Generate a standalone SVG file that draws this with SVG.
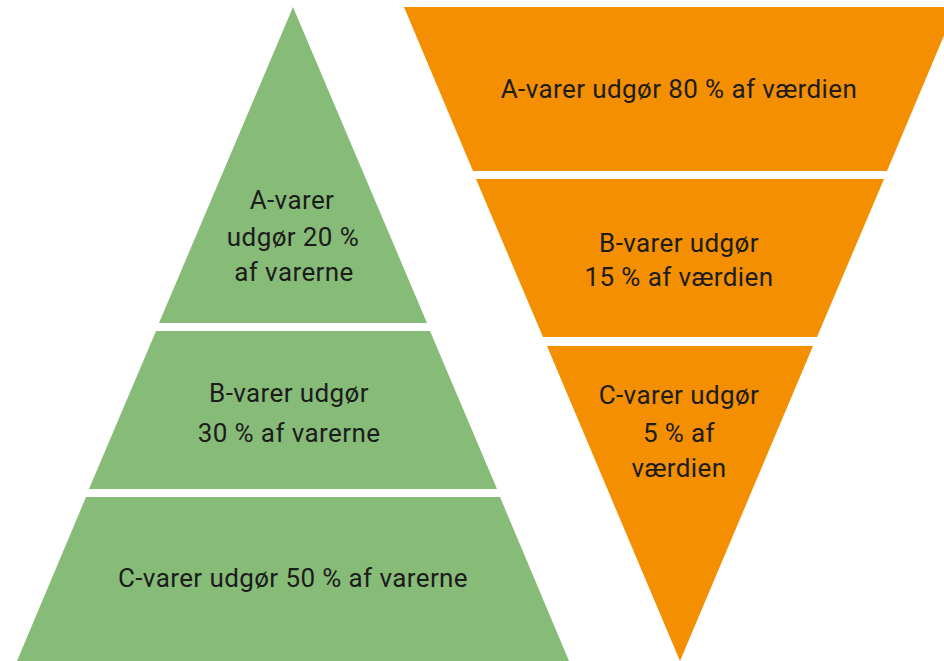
<svg xmlns="http://www.w3.org/2000/svg" width="944" height="661" viewBox="0 0 944 661">
  <style>
    .green { fill: #87BB78; }
    .orange { fill: #F38F00; }
    .lbl { font-family: Roboto, "Liberation Sans", sans-serif; font-size: 26px; letter-spacing: 0.4px; fill: #1c1c1c; text-anchor: middle; }
  </style>
  <rect width="944" height="661" fill="#ffffff"/>

  <!-- Left pyramid: share of items -->
  <g id="green-a">
    <polygon class="green" points="293,7 427,323 159,323"/>
    <text class="lbl" x="292" y="209">A-varer</text>
    <text class="lbl" x="293" y="246">udgør 20 %</text>
    <text class="lbl" x="294" y="281">af varerne</text>
  </g>
  <g id="green-b">
    <polygon class="green" points="156,331 430,331 497,489 89,489"/>
    <text class="lbl" x="289" y="402">B-varer udgør</text>
    <text class="lbl" x="289" y="442">30 % af varerne</text>
  </g>
  <g id="green-c">
    <polygon class="green" points="86,497 500,497 569,661 17,661"/>
    <text class="lbl" x="293" y="587">C-varer udgør 50 % af varerne</text>
  </g>

  <!-- Right inverted pyramid: share of value -->
  <g id="orange-a">
    <polygon class="orange" points="404,7 956,7 887,171 473,171"/>
    <text class="lbl" x="679" y="98">A-varer udgør 80 % af værdien</text>
  </g>
  <g id="orange-b">
    <polygon class="orange" points="476,179 884,179 817,337 543,337"/>
    <text class="lbl" x="679" y="252">B-varer udgør</text>
    <text class="lbl" x="679" y="286">15 % af værdien</text>
  </g>
  <g id="orange-c">
    <polygon class="orange" points="547,346 813,346 680,661"/>
    <text class="lbl" x="679" y="404">C-varer udgør</text>
    <text class="lbl" x="679" y="442">5 % af</text>
    <text class="lbl" x="679" y="477">værdien</text>
  </g>

  <g id="connectors"/>
</svg>
